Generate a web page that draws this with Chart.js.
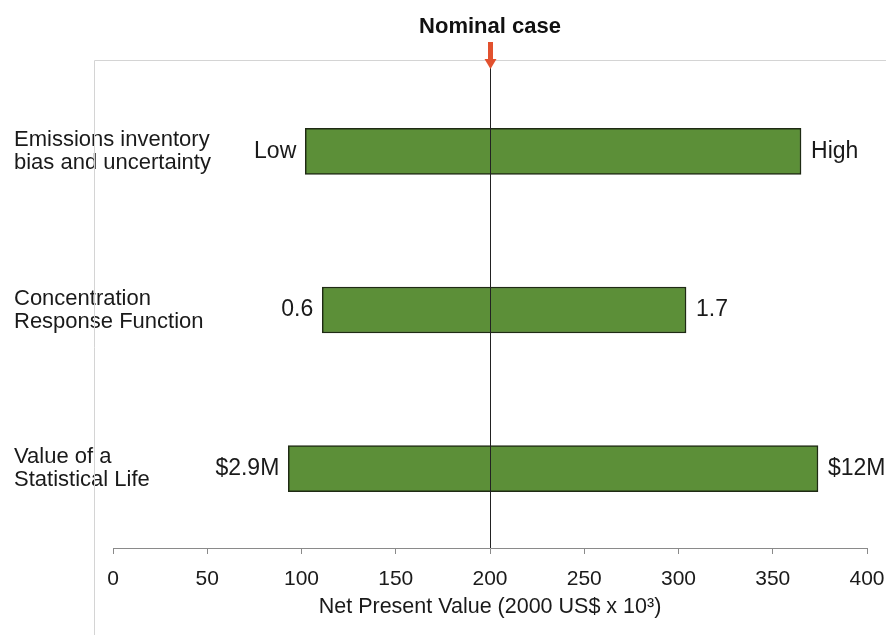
<!DOCTYPE html>
<html>
<head>
<meta charset="utf-8">
<script src="https://cdn.jsdelivr.net/npm/chart.js@4.4.0/dist/chart.umd.min.js"></script>
<style>
  html, body { margin: 0; padding: 0; background: #fff; }
  #wrap { width: 886px; height: 635px; }
</style>
</head>
<body>
<div id="wrap"><canvas id="grafico"></canvas></div>
<script>
// datos
var categorias = [
    ["Emissions inventory", "bias and uncertainty"],
    ["Concentration", "Response Function"],
    ["Value of a", "Statistical Life"]
];
var valoresBajos = [102, 111, 93];
var valoresAltos = [365, 304, 374];
var etiquetasBajas = ["Low", "0.6", "$2.9M"];
var etiquetasAltas = ["High", "1.7", "$12M"];
var casoNominal = 200;
var ejeMin = 0, ejeMax = 400, ejePaso = 50;

var rangos = valoresBajos.map(function (v, i) { return [v, valoresAltos[i]]; });

// marco gris, linea nominal, flecha y etiquetas de los extremos
var extras = {
    id: 'extras',
    beforeDatasetsDraw: function (chart) {
        var c = chart.ctx, a = chart.chartArea;
        c.save();
        c.strokeStyle = '#d4d4d4';
        c.lineWidth = 1;
        c.beginPath();
        c.moveTo(a.left - 18.5, chart.height);
        c.lineTo(a.left - 18.5, a.top - 11.5);
        c.lineTo(chart.width, a.top - 11.5);
        c.stroke();
        c.restore();
    },
    afterDatasetsDraw: function (chart) {
        var c = chart.ctx, a = chart.chartArea, x = chart.scales.x, y = chart.scales.y;
        var xn = Math.round(x.getPixelForValue(casoNominal)) + 0.5;
        c.save();
        c.strokeStyle = '#222';
        c.lineWidth = 1;
        c.beginPath();
        c.moveTo(xn, a.top - 4);
        c.lineTo(xn, a.bottom);
        c.stroke();
        // flecha roja
        c.fillStyle = '#e2512e';
        c.fillRect(xn - 2.5, a.top - 30, 5, 18);
        c.beginPath();
        c.moveTo(xn - 6, a.top - 13);
        c.lineTo(xn + 6, a.top - 13);
        c.lineTo(xn, a.top - 3);
        c.closePath();
        c.fill();
        // etiquetas
        c.fillStyle = '#1a1a1a';
        c.font = '23px "Liberation Sans", Arial, sans-serif';
        c.textBaseline = 'middle';
        for (var i = 0; i < categorias.length; i++) {
            var yc = y.getPixelForValue(i);
            c.textAlign = 'right';
            c.fillText(etiquetasBajas[i], x.getPixelForValue(valoresBajos[i]) - 9, yc);
            c.textAlign = 'left';
            c.fillText(etiquetasAltas[i], x.getPixelForValue(valoresAltos[i]) + 10, yc);
        }
        c.restore();
    }
};

var ctx1 = document.getElementById("grafico").getContext("2d");
window.myBar = new Chart(ctx1, {
    type: 'bar',
    data: {
        labels: categorias,
        datasets: [{
            data: rangos,
            backgroundColor: '#5c8f38',
            borderColor: '#1f2a14',
            borderWidth: 1.5,
            borderSkipped: false,
            barThickness: 46
        }]
    },
    plugins: [extras],
    options: {
        indexAxis: 'y',
        responsive: true,
        maintainAspectRatio: false,
        animation: false,
        layout: { padding: { left: 14, right: 19, top: 0, bottom: 0 } },
        plugins: {
            legend: { display: false },
            tooltip: { enabled: false },
            title: {
                display: true,
                text: 'Nominal case',
                fullSize: false,
                color: '#111',
                font: { family: '"Liberation Sans", Arial, sans-serif', size: 22, weight: 'bold', lineHeight: 1.2 },
                padding: { top: 14, bottom: 31.6 }
            }
        },
        scales: {
            x: {
                min: ejeMin,
                max: ejeMax,
                afterFit: function (s) { s.height = 87; s.paddingRight = 0; s.paddingLeft = 0; },
                ticks: {
                    stepSize: ejePaso,
                    color: '#1a1a1a',
                    padding: 15,
                    maxRotation: 0,
                    font: { family: '"Liberation Sans Narrow", "Liberation Sans", sans-serif', size: 21, lineHeight: 1 }
                },
                grid: { drawOnChartArea: false, drawTicks: true, tickLength: 6, color: '#8a8a8a' },
                border: { display: true, color: '#8a8a8a' },
                title: {
                    display: true,
                    text: 'Net Present Value (2000 US$ x 10\u00B3)',
                    color: '#1a1a1a',
                    font: { family: '"Liberation Sans Narrow", "Liberation Sans", sans-serif', size: 21.5, lineHeight: 1.2 },
                    padding: { top: 0, bottom: 15 }
                }
            },
            y: {
                afterFit: function (s) { s.width = 99; },
                ticks: {
                    mirror: true,
                    padding: -99,
                    crossAlign: 'near',
                    color: '#1a1a1a',
                    font: { family: '"Liberation Sans", Arial, sans-serif', size: 22, lineHeight: 1.05 }
                },
                grid: { display: false },
                border: { display: false }
            }
        }
    }
});
</script>
</body>
</html>
